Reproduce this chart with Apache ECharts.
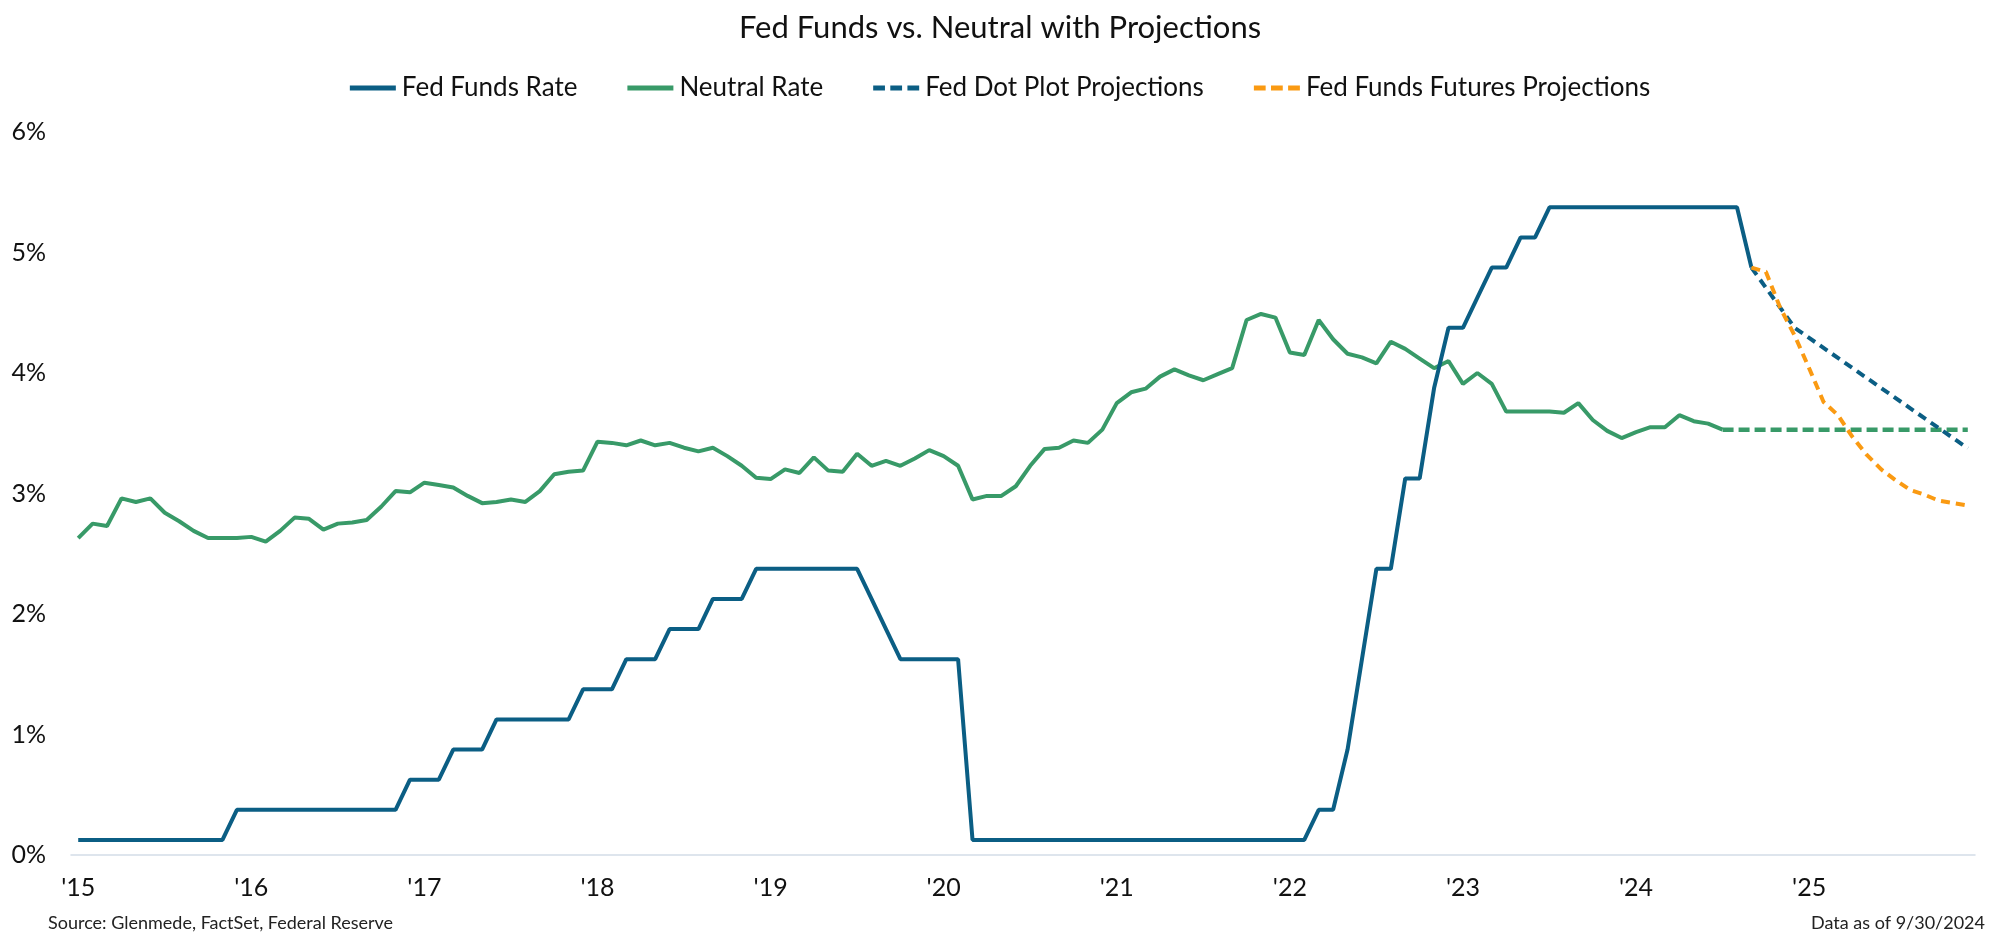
<!DOCTYPE html>
<html>
<head>
<meta charset="utf-8">
<script src="https://cdn.jsdelivr.net/npm/echarts@6/dist/echarts.min.js"></script>
<style>
html,body{margin:0;padding:0;background:#fff;}
#chart{width:2000px;height:949px;}
</style>
</head>
<body>
<div id="chart"></div>
<script>
// ---- Data ----
const years = [2015,2016,2017,2018,2019,2020,2021,2022,2023,2024,2025];
const monthNames = ['Jan','Feb','Mar','Apr','May','Jun','Jul','Aug','Sep','Oct','Nov','Dec'];
const categories = [];
years.forEach(y => monthNames.forEach(m => categories.push(m + ' ' + y)));

// Fed Funds Rate (midpoint of target range), Jan 2015 - Sep 2024
const fedFundsRate = [
  0.125,0.125,0.125,0.125,0.125,0.125,0.125,0.125,0.125,0.125,0.125,0.375,
  0.375,0.375,0.375,0.375,0.375,0.375,0.375,0.375,0.375,0.375,0.375,0.625,
  0.625,0.625,0.875,0.875,0.875,1.125,1.125,1.125,1.125,1.125,1.125,1.375,
  1.375,1.375,1.625,1.625,1.625,1.875,1.875,1.875,2.125,2.125,2.125,2.375,
  2.375,2.375,2.375,2.375,2.375,2.375,2.375,2.125,1.875,1.625,1.625,1.625,
  1.625,1.625,0.125,0.125,0.125,0.125,0.125,0.125,0.125,0.125,0.125,0.125,
  0.125,0.125,0.125,0.125,0.125,0.125,0.125,0.125,0.125,0.125,0.125,0.125,
  0.125,0.125,0.375,0.375,0.875,1.625,2.375,2.375,3.125,3.125,3.875,4.375,
  4.375,4.625,4.875,4.875,5.125,5.125,5.375,5.375,5.375,5.375,5.375,5.375,
  5.375,5.375,5.375,5.375,5.375,5.375,5.375,5.375,4.875
];

// Neutral Rate, Jan 2015 - Jul 2024
const neutralRate = [
  2.63,2.75,2.73,2.96,2.93,2.96,2.84,2.77,2.69,2.63,2.63,2.63,
  2.64,2.60,2.69,2.80,2.79,2.70,2.75,2.76,2.78,2.89,3.02,3.01,
  3.09,3.07,3.05,2.98,2.92,2.93,2.95,2.93,3.02,3.16,3.18,3.19,
  3.43,3.42,3.40,3.44,3.40,3.42,3.38,3.35,3.38,3.31,3.23,3.13,
  3.12,3.20,3.17,3.30,3.19,3.18,3.33,3.23,3.27,3.23,3.29,3.36,
  3.31,3.23,2.95,2.98,2.98,3.06,3.23,3.37,3.38,3.44,3.42,3.53,
  3.75,3.84,3.87,3.97,4.03,3.98,3.94,3.99,4.04,4.44,4.49,4.46,
  4.17,4.15,4.44,4.28,4.16,4.13,4.08,4.26,4.20,4.12,4.04,4.10,
  3.91,4.00,3.91,3.68,3.68,3.68,3.68,3.67,3.75,3.61,3.52,3.46,
  3.51,3.55,3.55,3.65,3.60,3.58,3.53
];

// Neutral rate held flat (projection)
const neutralProjMonths = ['Jul 2024','Dec 2025'];
const neutralProjValues = [3.53, 3.53];

// Fed Dot Plot Projections
const dotPlotMonths = ['Sep 2024','Dec 2024','Dec 2025'];
const dotPlotValues = [4.875, 4.375, 3.375];

// Fed Funds Futures Projections
const futuresMonths = ['Sep 2024','Oct 2024','Nov 2024','Dec 2024','Jan 2025','Feb 2025','Mar 2025','Apr 2025',
  'May 2025','Jun 2025','Jul 2025','Aug 2025','Sep 2025','Oct 2025','Nov 2025','Dec 2025'];
const futuresValues = [4.875,4.84,4.54,4.31,4.04,3.76,3.65,3.47,3.32,3.20,3.11,3.03,2.99,2.94,2.92,2.90];

const yTicks = [0,1,2,3,4,5,6];

// ---- Chart ----
const BLUE = '#0b5e84';
const GREEN = '#389a68';
const ORANGE = '#fa9a12';
const FONT = 'Lato, "Open Sans", sans-serif';

const SOLID_ICON = 'path://M0,0h46v5h-46z';
const DASH_ICON = 'path://M0,0h11v5h-11z M16,0h11v5h-11z M32,0h11v5h-11z';

const pairs = (ms, vs) => ms.map((m, k) => [m, vs[k]]);

const chart = echarts.init(document.getElementById('chart'), null, {renderer: 'canvas'});
chart.setOption({
  animation: false,
  backgroundColor: '#ffffff',
  textStyle: {fontFamily: FONT},
  title: {
    text: 'Fed Funds vs. Neutral with Projections',
    left: 'center', top: 7,
    textStyle: {fontFamily: FONT, fontSize: 31, fontWeight: 'normal', color: '#111'}
  },
  legend: {
    top: 70, left: 'center',
    itemWidth: 46, itemHeight: 5, itemGap: 50,
    symbolKeepAspect: false,
    textStyle: {fontFamily: FONT, fontSize: 26, color: '#111', padding: [0,0,0,1]},
    data: [
      {name: 'Fed Funds Rate', icon: SOLID_ICON},
      {name: 'Neutral Rate', icon: SOLID_ICON},
      {name: 'Fed Dot Plot Projections', icon: DASH_ICON},
      {name: 'Fed Funds Futures Projections', icon: DASH_ICON}
    ]
  },
  grid: {left: 71, right: 25, top: 132, bottom: 94, containLabel: false},
  xAxis: {
    type: 'category',
    data: categories,
    boundaryGap: true,
    axisLine: {lineStyle: {color: '#d3dde8', width: 1.5}},
    axisTick: {interval: (i) => i % 12 === 0, length: 8, lineStyle: {color: '#d3dde8', width: 1.5}},
    axisLabel: {
      interval: (i) => i % 12 === 0,
      margin: 20,
      fontFamily: FONT, fontSize: 25, color: '#111',
      formatter: (v) => "'" + v.slice(-2)
    },
    splitLine: {show: false}
  },
  yAxis: {
    type: 'value',
    min: yTicks[0], max: yTicks[yTicks.length-1], interval: 1,
    axisLine: {show: false}, axisTick: {show: false}, splitLine: {show: false},
    axisLabel: {margin: 25, fontFamily: FONT, fontSize: 25, color: '#111', formatter: '{value}%'}
  },
  series: [
    {
      name: 'Neutral Rate', type: 'line', data: neutralRate, symbol: 'none',
      lineStyle: {color: GREEN, width: 4}, itemStyle: {color: GREEN}, z: 2
    },
    {
      name: 'Neutral Projection', type: 'line', data: pairs(neutralProjMonths, neutralProjValues), symbol: 'none',
      lineStyle: {color: GREEN, width: 4.5, type: [11, 5]}, itemStyle: {color: GREEN}, z: 2
    },
    {
      name: 'Fed Funds Rate', type: 'line', data: fedFundsRate, symbol: 'none',
      lineStyle: {color: BLUE, width: 4}, itemStyle: {color: BLUE}, z: 3
    },
    {
      name: 'Fed Dot Plot Projections', type: 'line', data: pairs(dotPlotMonths, dotPlotValues), symbol: 'none',
      lineStyle: {color: BLUE, width: 4, type: [9, 6]}, itemStyle: {color: BLUE}, z: 4
    },
    {
      name: 'Fed Funds Futures Projections', type: 'line', data: pairs(futuresMonths, futuresValues), symbol: 'none',
      lineStyle: {color: ORANGE, width: 4, type: [9, 6]}, itemStyle: {color: ORANGE}, z: 5
    }
  ],
  graphic: [
    {type: 'text', left: 48, top: 914, style: {text: 'Source: Glenmede, FactSet, Federal Reserve', font: '18px ' + FONT, fill: '#222'}},
    {type: 'text', right: 15, top: 914, style: {text: 'Data as of 9/30/2024', font: '18px ' + FONT, fill: '#222'}}
  ]
});
</script>
</body>
</html>
